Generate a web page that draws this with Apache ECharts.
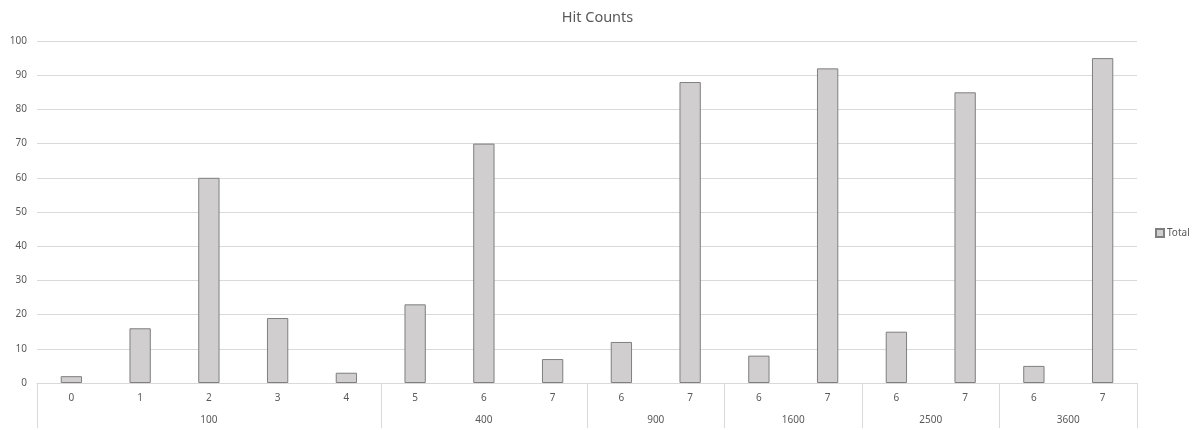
<!DOCTYPE html>
<html>
<head>
<meta charset="utf-8">
<style>
  html, body { margin: 0; padding: 0; background: #fff; }
  #chart { width: 1195px; height: 430px; }
</style>
<script src="https://cdn.jsdelivr.net/npm/echarts@6/dist/echarts.min.js"></script>
</head>
<body>
<div id="chart"></div>
<script>
// Outer category groups and how many inner categories each one spans
const groupNames = ['100', '400', '900', '1600', '2500', '3600'];
const groupSizes = [5, 3, 2, 2, 2, 2];
// Inner category labels, in order across all groups
const subLabels = ['0', '1', '2', '3', '4', '5', '6', '7', '6', '7', '6', '7', '6', '7', '6', '7'];
// Hit totals per inner category
const totals = [2, 16, 60, 19, 3, 23, 70, 7, 12, 88, 8, 92, 15, 85, 5, 95];
const yTicks = [0, 10, 20, 30, 40, 50, 60, 70, 80, 90, 100];

// Unique keys for the inner axis (inner labels repeat across groups)
const keys = [];
const boundaries = [0];
const centers = [];
let idx = 0;
groupNames.forEach((g, gi) => {
  const start = idx;
  for (let k = 0; k < groupSizes[gi]; k++) {
    keys.push(g + '|' + subLabels[idx]);
    idx++;
  }
  boundaries.push(idx);
  centers.push((start + idx) / 2);
});

const textColor = '#595959';
const lineColor = '#d9d9d9';
const font = 'Noto Sans';

const chart = echarts.init(document.getElementById('chart'));
chart.setOption({
  animation: false,
  backgroundColor: '#ffffff',
  textStyle: { fontFamily: font },
  title: {
    text: 'Hit Counts',
    left: 'center',
    top: 5,
    textStyle: { color: textColor, fontSize: 14.5, fontWeight: 'normal', fontFamily: font }
  },
  legend: {
    data: ['Total'],
    orient: 'vertical',
    left: 1150,
    top: 223,
    icon: 'rect',
    itemWidth: 8,
    itemHeight: 8,
    itemGap: 4,
    textStyle: { color: textColor, fontSize: 10, fontFamily: font, padding: [0, 0, 0, -2] }
  },
  grid: { left: 37, right: 58, top: 41, bottom: 47, containLabel: false },
  xAxis: [
    {
      type: 'category',
      data: keys,
      position: 'bottom',
      axisLine: { show: true, lineStyle: { color: lineColor, width: 1 } },
      axisTick: { show: false },
      axisLabel: {
        color: textColor,
        fontSize: 10,
        fontFamily: font,
        margin: 10,
        interval: 0,
        formatter: v => v.split('|')[1]
      },
      splitLine: { show: false }
    },
    {
      type: 'value',
      min: 0,
      max: keys.length,
      position: 'bottom',
      axisLine: { show: false },
      axisTick: {
        show: true,
        length: 45,
        customValues: boundaries,
        lineStyle: { color: lineColor, width: 1 }
      },
      axisLabel: {
        show: true,
        customValues: centers,
        color: textColor,
        fontSize: 10,
        fontFamily: font,
        margin: 32,
        formatter: v => {
          const i = centers.indexOf(v);
          return i >= 0 ? groupNames[i] : '';
        }
      },
      splitLine: { show: false }
    }
  ],
  yAxis: {
    type: 'value',
    min: yTicks[0],
    max: yTicks[yTicks.length - 1],
    interval: 10,
    axisLine: { show: false },
    axisTick: { show: false },
    axisLabel: { color: textColor, fontSize: 10, fontFamily: font, margin: 10 },
    splitLine: { lineStyle: { color: lineColor, width: 1 } }
  },
  series: [
    {
      name: 'Total',
      type: 'bar',
      xAxisIndex: 0,
      data: totals,
      barWidth: '31%',
      itemStyle: { color: '#d0cece', borderColor: '#7f7f7f', borderWidth: 1 }
    }
  ]
});
</script>
</body>
</html>
